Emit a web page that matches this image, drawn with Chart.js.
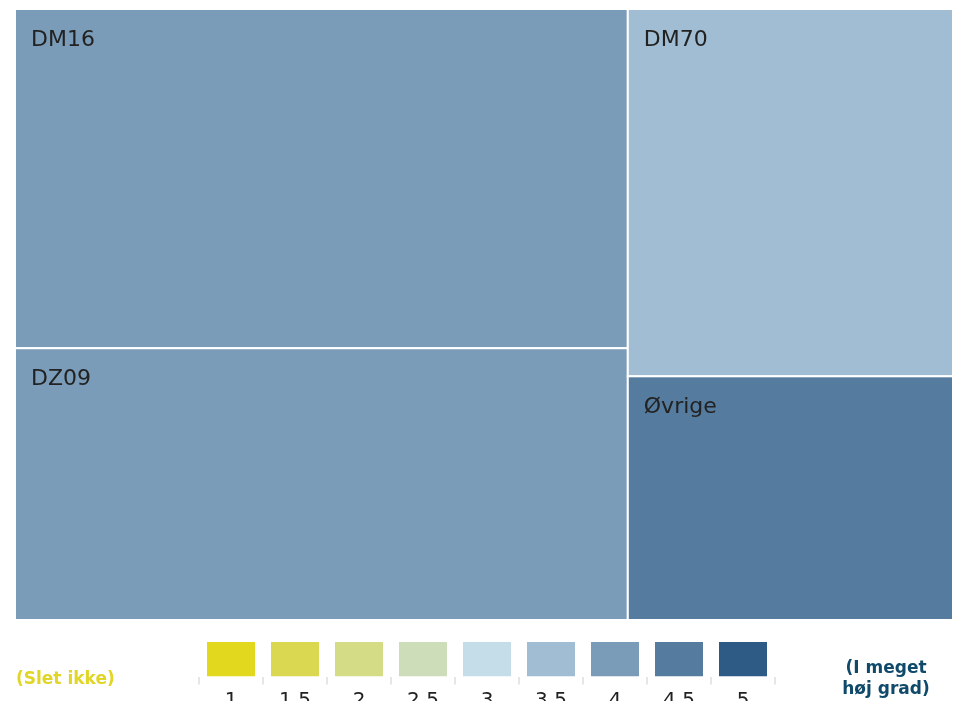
<!DOCTYPE html>
<html>
<head>
<meta charset="utf-8">
<script src="https://cdn.jsdelivr.net/npm/chart.js@4"></script>
<style>
  html, body { margin: 0; padding: 0; background: #fff; overflow: hidden; }
  body { width: 953px; height: 701px; position: relative; font-family: 'DejaVu Sans', Verdana, sans-serif; }
  #mapWrap { position: absolute; left: 0; top: 0; width: 953px; height: 620px; }
  #legendWrap { position: absolute; left: 0; top: 620px; width: 953px; height: 91px; }
  .scale-note { position: absolute; font-weight: bold; font-size: 17px; line-height: 21px; text-align: center; }
  #lowNote { left: 16px; top: 668px; color: #e1d625; text-align: left; }
  #highNote { left: 816px; top: 657px; width: 140px; color: #104a6a; }
</style>
</head>
<body>
<div id="mapWrap"><canvas id="mapChart"></canvas></div>
<div id="legendWrap"><canvas id="legendChart"></canvas></div>
<div class="scale-note" id="lowNote">(Slet ikke)</div>
<div class="scale-note" id="highNote">(I meget<br>høj grad)</div>

<script>
// treemap cells
const cellNames = ['DM16', 'DZ09', 'DM70', 'Øvrige'];
const cellSizes = [36.2, 29.0, 20.8, 13.8];
const cellScores = [4, 4, 3.5, 4.5];
// which cells share a column, left to right
const cellColumns = [[0, 1], [2, 3]];

// colour scale
const scaleLevels = ['1', '1.5', '2', '2.5', '3', '3.5', '4', '4.5', '5'];
const scaleColors = ['#e2d91e', '#d9d850', '#d4dc86', '#cddcb9', '#c4dde9', '#a0bdd3', '#7a9cb8', '#557c9f', '#2e5a86'];

function colorFor(score) {
  const i = scaleLevels.indexOf(String(score));
  return i >= 0 ? scaleColors[i] : '#ccc';
}

const treemapPlugin = {
  id: 'treemap',
  afterDatasetsDraw(chart) {
    const { ctx, scales: { x, y } } = chart;
    const total = cellSizes.reduce((a, b) => a + b, 0);
    let colStart = 0;
    cellColumns.forEach(col => {
      const colSum = col.reduce((a, i) => a + cellSizes[i], 0);
      const colEnd = colStart + colSum / total * 100;
      let rowStart = 0;
      col.forEach(i => {
        const rowEnd = rowStart + cellSizes[i] / colSum * 100;
        const px0 = x.getPixelForValue(colStart), px1 = x.getPixelForValue(colEnd);
        const py0 = y.getPixelForValue(rowStart), py1 = y.getPixelForValue(rowEnd);
        ctx.save();
        ctx.fillStyle = colorFor(cellScores[i]);
        ctx.fillRect(px0, py0, px1 - px0, py1 - py0);
        ctx.strokeStyle = '#fff';
        ctx.lineWidth = 2;
        ctx.strokeRect(px0, py0, px1 - px0, py1 - py0);
        ctx.fillStyle = '#222';
        ctx.font = "22px 'DejaVu Sans', Verdana, sans-serif";
        ctx.textBaseline = 'alphabetic';
        ctx.fillText(cellNames[i], px0 + 16, py0 + 37);
        ctx.restore();
        rowStart = rowEnd;
      });
      colStart = colEnd;
    });
  }
};

new Chart(document.getElementById('mapChart'), {
  type: 'scatter',
  data: { datasets: [{ data: [] }] },
  options: {
    responsive: true,
    maintainAspectRatio: false,
    animation: false,
    layout: { padding: { left: 15, top: 9, right: -1, bottom: 0 } },
    plugins: { legend: { display: false }, tooltip: { enabled: false } },
    scales: {
      x: { display: false, min: 0, max: 100 },
      y: { display: false, min: 0, max: 100, reverse: true }
    }
  },
  plugins: [treemapPlugin]
});

new Chart(document.getElementById('legendChart'), {
  type: 'bar',
  data: {
    labels: scaleLevels,
    datasets: [{
      data: scaleLevels.map(() => 1),
      backgroundColor: scaleColors,
      borderWidth: 0,
      barPercentage: 0.75,
      categoryPercentage: 1
    }]
  },
  options: {
    responsive: true,
    maintainAspectRatio: false,
    animation: false,
    layout: { padding: { left: 199, right: 178, top: 22, bottom: 0 } },
    plugins: { legend: { display: false }, tooltip: { enabled: false } },
    scales: {
      x: {
        offset: true,
        border: { display: false },
        grid: { offset: true, drawOnChartArea: false, drawTicks: true, tickLength: 8, color: '#e6e6e6', lineWidth: 2 },
        ticks: { color: '#222', padding: 4, font: { size: 20, family: "'DejaVu Sans', Verdana, sans-serif" } }
      },
      y: { display: false, min: 0, max: 1 }
    }
  }
});
</script>
</body>
</html>
